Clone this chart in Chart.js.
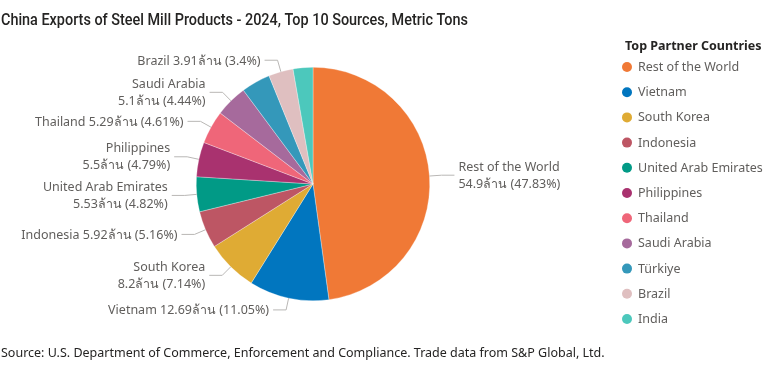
<!DOCTYPE html>
<html>
<head>
<meta charset="utf-8">
<script src="https://cdn.jsdelivr.net/npm/chart.js@4/dist/chart.umd.min.js"></script>
<style>
html,body{margin:0;padding:0;background:#fff;}
#wrap{position:relative;width:765px;height:369px;}
</style>
</head>
<body>
<div id="wrap"><canvas id="c" width="765" height="369"></canvas></div>
<script>
const titleText = "China Exports of Steel Mill Products - 2024, Top 10 Sources, Metric Tons";
const sourceText = "Source: U.S. Department of Commerce, Enforcement and Compliance. Trade data from S&P Global, Ltd.";
const legendTitle = "Top Partner Countries";
const unitSuffix = "ล้าน";

const countries = ["Rest of the World","Vietnam","South Korea","Indonesia","United Arab Emirates","Philippines","Thailand","Saudi Arabia","Türkiye","Brazil","India"];
const valuesMillions = [54.9, 12.69, 8.2, 5.92, 5.53, 5.5, 5.29, 5.1, 4.62, 3.91, 3.14];
const sharesPct = ["47.83","11.05","7.14","5.16","4.82","4.79","4.61","4.44",null,"3.4",null];
const wrapLabel = [true,false,true,false,true,true,false,true,false,false,false];
const colors = ["#F07936","#0176BF","#DFAB34","#BD5664","#019A86","#A9326F","#EF6679","#A66A9C","#3498BA","#DFBFC0","#4CC8BC"];

const FONT = '"Segoe UI","Noto Sans","Open Sans",sans-serif';

const decorPlugin = {
  id: 'decor',
  afterDraw(chart) {
    const ctx = chart.ctx;
    ctx.save();
    // title
    ctx.fillStyle = '#252423';
    ctx.font = '500 16px Roboto, "Liberation Sans", sans-serif';
    ctx.textAlign = 'left';
    ctx.textBaseline = 'alphabetic';
    ctx.fillText(titleText, 1, 25, 467);
    // source
    ctx.font = '12.5px ' + FONT;
    ctx.fillStyle = '#252423';
    ctx.fillText(sourceText, 1, 357, 606);
    // legend
    ctx.font = 'bold 12.5px ' + FONT;
    ctx.fillStyle = '#252423';
    ctx.fillText(legendTitle, 625, 50, 138);
    ctx.font = '12.5px ' + FONT;
    chart.data.labels.forEach((lab, i) => {
      const y = 67 + i * 25.2;
      ctx.beginPath();
      ctx.fillStyle = chart.data.datasets[0].backgroundColor[i];
      ctx.arc(627, y, 5, 0, Math.PI * 2);
      ctx.fill();
      ctx.fillStyle = '#605E5C';
      ctx.textBaseline = 'middle';
      ctx.fillText(lab, 638, y + 0.5);
    });
    // data labels with leader lines
    const meta = chart.getDatasetMeta(0);
    ctx.font = '12.5px ' + FONT;
    meta.data.forEach((arc, i) => {
      const share = sharesPct[i];
      if (share === null) return;
      const p = arc.getProps(['x','y','startAngle','endAngle','outerRadius'], true);
      const mid = (p.startAngle + p.endAngle) / 2;
      const cx = Math.cos(mid), sy = Math.sin(mid);
      const ex = p.x + p.outerRadius * cx, ey = p.y + p.outerRadius * sy;
      const bx = p.x + (p.outerRadius + 12) * cx, by = p.y + (p.outerRadius + 12) * sy;
      const dir = cx >= 0 ? 1 : -1;
      const lx = bx + dir * 13;
      ctx.strokeStyle = '#B9B7B5';
      ctx.lineWidth = 1;
      ctx.beginPath();
      ctx.moveTo(ex, ey);
      ctx.lineTo(bx, by);
      ctx.lineTo(lx, by);
      ctx.stroke();
      const tx = lx + dir * 4;
      ctx.textAlign = dir > 0 ? 'left' : 'right';
      ctx.textBaseline = 'middle';
      ctx.fillStyle = '#605E5C';
      const name = chart.data.labels[i];
      const valTxt = valuesMillions[i] + unitSuffix + ' (' + share + '%)';
      if (wrapLabel[i]) {
        ctx.fillText(name, tx, by - 8);
        ctx.fillText(valTxt, tx, by + 9);
      } else {
        ctx.fillText(name + ' ' + valTxt, tx, by + 1);
      }
    });
    ctx.restore();
  }
};

new Chart(document.getElementById('c'), {
  type: 'pie',
  data: {
    labels: countries,
    datasets: [{
      data: valuesMillions,
      backgroundColor: colors,
      borderColor: 'rgba(255,255,255,0.6)',
      borderWidth: 0.5
    }]
  },
  options: {
    responsive: false,
    animation: false,
    layout: { padding: { top: 67, bottom: 68, left: 100, right: 239 } },
    plugins: {
      legend: { display: false },
      tooltip: { enabled: false },
      title: { display: false }
    }
  },
  plugins: [decorPlugin]
});
</script>
</body>
</html>
